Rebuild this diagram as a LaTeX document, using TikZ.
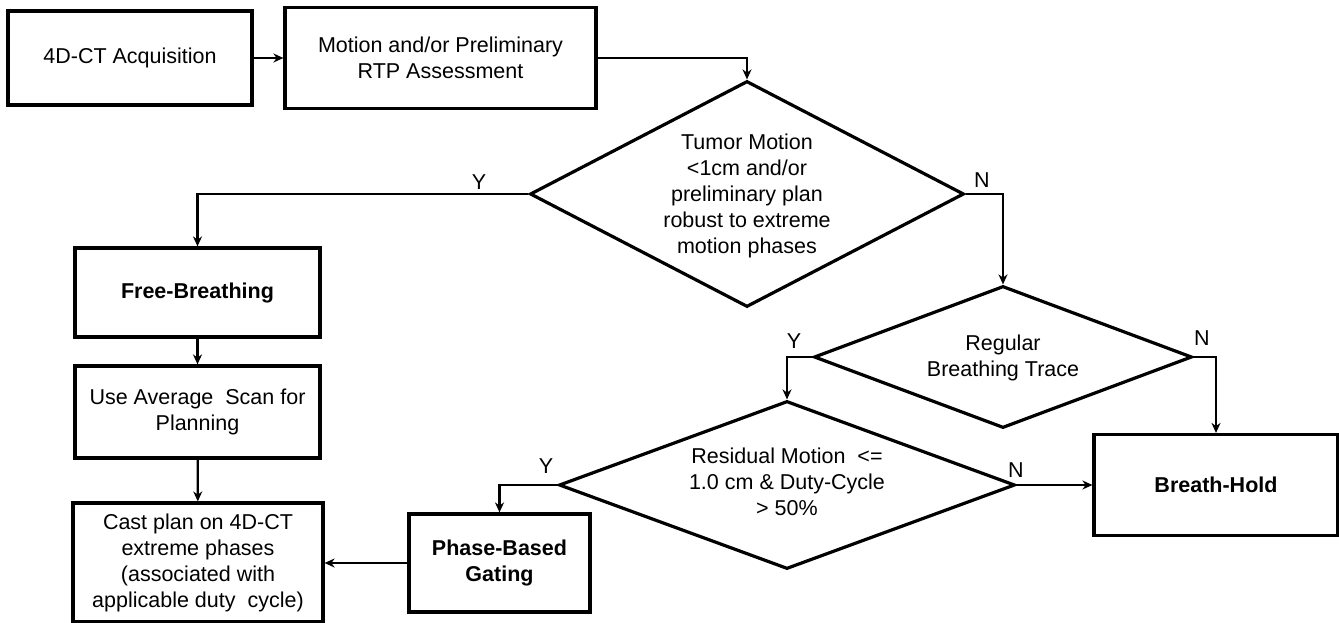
\documentclass[tikz,border=0pt]{standalone}
\usepackage{fontspec}
\setmainfont{Liberation Sans}
\usetikzlibrary{arrows,
  arrows.meta,
  calc,
  positioning,
  shapes
}
\tikzstyle{procbox} = [draw, rectangle, line width=3.2, inner sep=0,
  align=center, font=\fontsize{21.5}{26}\selectfont]
\tikzstyle{boldbox} = [procbox, font=\bfseries\fontsize{21.5}{26}\selectfont]
\tikzstyle{decision} = [draw, diamond, line width=3.2, inner sep=0]
\tikzstyle{dtext} = [align=center, font=\fontsize{21.5}{26}\selectfont]
\tikzstyle{flow} = [->, line width=2.2, >={Stealth[length=10, width=9]}]

\begin{document}
\begin{tikzpicture}[x=1pt, y=-1pt]
  \useasboundingbox (0, 0) rectangle (1339, 623);

  % acquisition
  \node[procbox, minimum width=244, minimum height=94] (acq) at (130, 58) {4D-CT Acquisition};
  \node[procbox, minimum width=311, minimum height=101] (motion) at (440.5, 58)
    {Motion and/or Preliminary\\RTP Assessment};
  \draw[flow] (acq) -- (motion);

  % first check
  \node[decision, minimum width=434, minimum height=226] (tumor) at (747, 194) {};
  \node[dtext] (tumortxt) at (747, 196)
    {Tumor Motion\\<1cm and/or\\preliminary plan\\robust to extreme\\motion phases};
  \draw[flow] (motion) -| (tumor);

  % free breathing
  \node[boldbox, minimum width=245, minimum height=89] (free) at (197.5, 292.5) {Free-Breathing};
  \node[procbox, minimum width=245, minimum height=92] (avg) at (197.5, 412)
    {Use Average\ \ Scan for\\Planning};
  \node[procbox, minimum width=250, minimum height=119] (cast) at (198, 562.5)
    {Cast plan on 4D-CT\\extreme phases\\(associated with\\applicable duty\ \ cycle)};
  \draw[flow] (tumor) -| (free);
  \path (479, 182) node[dtext] (ytumor) {Y};
  \draw[flow] (free) -- (avg);
  \draw[flow] (avg) -- (cast);

  % breathing trace
  \node[decision, minimum width=378, minimum height=142] (regular) at (1003, 357) {};
  \node[dtext] (regulartxt) at (1003, 358) {Regular\\Breathing Trace};
  \draw[flow] (tumor) -| (regular);
  \path (982, 180) node[dtext] (ntumor) {N};

  % residual motion
  \node[decision, minimum width=456, minimum height=168] (resid) at (787, 485) {};
  \node[dtext] (residtxt) at (787, 482) {Residual Motion\ \ <=\\1.0 cm \& Duty-Cycle\\> 50\%};
  \draw[flow] (regular) -| (resid);
  \path (794, 341) node[dtext] (yregular) {Y};

  % breath hold
  \node[boldbox, minimum width=244, minimum height=101] (hold) at (1216, 485) {Breath-Hold};
  \draw[flow] (regular) -| (hold);
  \path (1202, 338) node[dtext] (nregular) {N};
  \draw[flow] (resid) -- (hold);
  \path (1016, 470) node[dtext] (nresid) {N};

  % gating
  \node[boldbox, minimum width=181, minimum height=98] (phase) at (499.5, 563) {Phase-Based\\Gating};
  \draw[flow] (resid) -| (phase);
  \path (546, 466) node[dtext] (yresid) {Y};
  \draw[flow] (phase) -- (phase -| cast.east);
\end{tikzpicture}
\end{document}
